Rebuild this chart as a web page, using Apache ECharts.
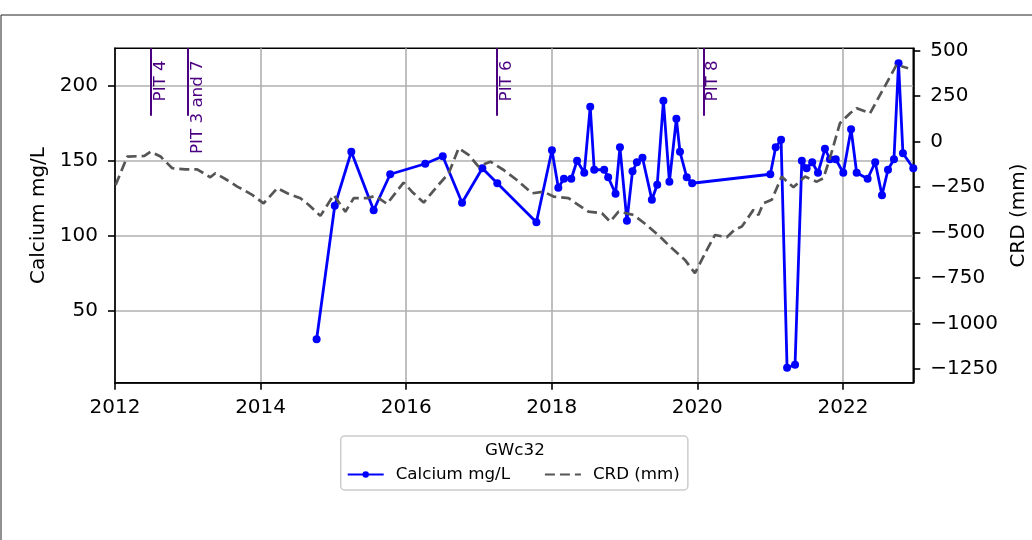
<!DOCTYPE html>
<html><head><meta charset="utf-8">
<script src="https://cdn.jsdelivr.net/npm/echarts@6/dist/echarts.min.js"></script>
<style>html,body{margin:0;padding:0;background:#fff}#c{width:1032px;height:540px}</style>
</head><body><div id="c"></div>
<script>
const STATION = 'GWc32';
const CA_NAME = 'Calcium mg/L';
const CRD_NAME = 'CRD (mm)';

const CA_DATES = ['2014-10-09','2015-01-08','2015-04-01','2015-07-22','2015-10-13','2016-04-06','2016-07-03','2016-10-08','2017-01-18','2017-04-03',
  '2017-10-16','2018-01-02','2018-02-03','2018-03-03','2018-04-09','2018-05-08','2018-06-13','2018-07-13','2018-08-02','2018-09-21',
  '2018-10-11','2018-11-17','2018-12-09','2019-01-13','2019-02-10','2019-03-04','2019-04-01','2019-05-18','2019-06-14','2019-07-15',
  '2019-08-14','2019-09-18','2019-10-06','2019-11-09','2019-12-06','2021-01-02','2021-01-29','2021-02-25','2021-03-27','2021-05-06',
  '2021-06-09','2021-07-03','2021-07-31','2021-08-29','2021-10-03','2021-10-28','2021-11-26','2022-01-03','2022-02-11','2022-03-11',
  '2022-05-05','2022-06-12','2022-07-16','2022-08-15','2022-09-14','2022-10-07','2022-10-29','2022-12-20'];
const CA_VALUES = [31,120,156,117,141,148,153,122,145,135,
  109,157,132,138,138,150,142,186,144,144,
  139,128,159,110,143,149,152,124,134,190,
  136,178,156,139,135,141,159,164,12,14,
  150,145,149,142,158,151,151,142,171,142,
  138,149,127,144,151,215,155,145];

const CRD_DATES = ['2012-01-04','2012-03-03','2012-05-26','2012-06-28','2012-08-17','2012-10-15','2012-12-20','2013-02-17','2013-04-24','2013-05-19',
  '2013-07-17','2013-09-06','2013-10-09','2013-11-20','2014-01-16','2014-03-26','2014-05-15','2014-07-20','2014-08-31','2014-10-28',
  '2015-01-03','2015-03-02','2015-04-13','2015-06-19','2015-07-31','2015-09-27','2015-12-19','2016-01-30','2016-03-29','2016-06-04',
  '2016-08-02','2016-09-21','2016-11-10','2016-12-30','2017-02-27','2017-05-05','2017-07-10','2017-09-24','2017-11-21','2018-01-10',
  '2018-03-26','2018-07-04','2018-09-10','2018-10-21','2018-12-02','2019-02-15','2019-04-22','2019-07-06','2019-08-17','2019-10-31',
  '2019-12-20','2020-02-18','2020-03-30','2020-05-28','2020-07-09','2020-08-12','2020-10-09','2020-11-03','2020-11-28','2021-01-09',
  '2021-02-28','2021-04-28','2021-06-25','2021-08-23','2021-09-25','2021-10-28','2021-12-17','2022-02-06','2022-03-11','2022-05-17',
  '2022-09-27','2022-11-24'];
const CRD_VALUES = [-238,-82,-79,-55,-82,-146,-152,-152,-196,-174,
  -211,-247,-266,-293,-339,-256,-284,-311,-348,-408,
  -293,-385,-311,-311,-298,-342,-225,-275,-335,-247,
  -174,-36,-73,-137,-110,-156,-211,-284,-275,-302,
  -311,-385,-394,-440,-385,-403,-458,-531,-577,-650,
  -723,-595,-513,-526,-482,-467,-375,-403,-339,-320,
  -192,-251,-192,-220,-201,-91,101,156,184,156,
  422,403];

const PIT_DATES = ['2012-07-01','2013-01-01','2017-04-01','2020-02-01'];
const PIT_LABELS = ['PIT 4','PIT 3 and 7','PIT 6','PIT 8'];
const PIT_FROM = 180;

const X_MIN = '2012-01-01';
const X_MAX = '2022-12-20';
const X_TICK_YEARS = [2012,2014,2016,2018,2020,2022];
const LEFT_MIN = 2, LEFT_MAX = 225;
const LEFT_TICKS = [50,100,150,200];
const RIGHT_MIN = -1325, RIGHT_MAX = 513;
const RIGHT_TICKS = [-1250,-1000,-750,-500,-250,0,250,500];

// date string -> decimal year
function t(s){
  const p = s.split('-').map(Number);
  const start = Date.UTC(p[0],0,1), end = Date.UTC(p[0]+1,0,1);
  return p[0] + (Date.UTC(p[0],p[1]-1,p[2]) - start) / (end - start);
}
const FONT = "'DejaVu Sans', sans-serif";
const PURPLE = '#4b0082';
const GRIDC = '#b0b0b0';
const fmtNum = v => v < 0 ? '\u2212' + Math.abs(v) : String(v);

const chart = echarts.init(document.getElementById('c'), null, {renderer:'canvas'});

const option = {
  animation: false,
  backgroundColor: '#fff',
  textStyle: {fontFamily: FONT},
  grid: {left:115, top:48.3, right:118.7, bottom:157.3, show:true, borderColor:'#000', borderWidth:1.6, containLabel:false, outerBoundsMode:'none'},
  xAxis: {
    type:'value', min:t(X_MIN), max:t(X_MAX),
    axisLine:{show:true, onZero:false, lineStyle:{color:'#000', width:1.6}},
    axisTick:{show:true, length:7, lineStyle:{color:'#000', width:1.6}, customValues:X_TICK_YEARS},
    axisLabel:{show:true, fontSize:20, color:'#000', fontFamily:FONT, margin:15, customValues:X_TICK_YEARS,
      showMinLabel:true, formatter: v => String(Math.round(v))},
    splitLine:{show:true, lineStyle:{color:GRIDC, width:1.6}}
  },
  yAxis: [{
    type:'value', position:'left', min:LEFT_MIN, max:LEFT_MAX,
    name: CA_NAME, nameLocation:'middle', nameGap:64, nameRotate:90,
    nameTextStyle:{fontSize:20, color:'#000', fontFamily:FONT},
    axisLine:{show:true, onZero:false, lineStyle:{color:'#000', width:1.6}},
    axisTick:{show:true, length:7, lineStyle:{color:'#000', width:1.6}, customValues:LEFT_TICKS},
    axisLabel:{show:true, fontSize:20, color:'#000', fontFamily:FONT, margin:17, customValues:LEFT_TICKS, formatter: fmtNum},
    splitLine:{show:true, lineStyle:{color:GRIDC, width:1.6}}
  },{
    type:'value', position:'right', min:RIGHT_MIN, max:RIGHT_MAX,
    name: CRD_NAME, nameLocation:'middle', nameGap:95, nameRotate:90,
    nameTextStyle:{fontSize:20, color:'#000', fontFamily:FONT},
    axisLine:{show:true, onZero:false, lineStyle:{color:'#000', width:1.6}},
    axisTick:{show:true, length:7, lineStyle:{color:'#000', width:1.6}, customValues:RIGHT_TICKS},
    axisLabel:{show:true, fontSize:20, color:'#000', fontFamily:FONT, margin:17, customValues:RIGHT_TICKS, formatter: fmtNum},
    splitLine:{show:false}
  }],
  legend: {
    data:[{name:CA_NAME}, {name:CRD_NAME, itemStyle:{opacity:0}}], left:340.7, top:436, orient:'horizontal',
    padding:[30, 8, 7, 6], itemWidth:36, itemHeight:8, itemGap:34,
    backgroundColor:'rgba(255,255,255,0.8)', borderColor:'#cccccc', borderWidth:1.5, borderRadius:4,
    textStyle:{fontSize:16.7, color:'#000', fontFamily:FONT, padding:[0,0,0,7]}
  },
  graphic: [
    {type:'rect', shape:{x:1, y:15, width:1200, height:700}, style:{fill:'none', stroke:'#222', lineWidth:1}, z:-1, silent:true},
    {type:'text', x:514.85, y:451, style:{text:STATION, font:"16.7px 'DejaVu Sans', sans-serif", fill:'#000', textAlign:'center', textVerticalAlign:'middle'}, z:100}
  ],
  series: [{
    name: CA_NAME, type:'line', yAxisIndex:0, z:2,
    data: CA_DATES.map((d,i) => [t(d), CA_VALUES[i]]),
    color:'#0000ff', symbol:'circle', symbolSize:8, showSymbol:true,
    lineStyle:{color:'#0000ff', width:2.8}, itemStyle:{color:'#0000ff'},
    markLine: {
      silent:true, symbol:['none','none'], animation:false,
      lineStyle:{color:PURPLE, width:2, type:'solid'},
      label:{show:true, position:'insideEndBottom', distance:[12,1], color:PURPLE, fontSize:16.7, fontFamily:FONT,
        formatter: p => p.name},
      data: PIT_DATES.map((d,i) => [{name:PIT_LABELS[i], coord:[t(d), PIT_FROM]}, {coord:[t(d), LEFT_MAX]}])
    }
  },{
    name: CRD_NAME, type:'line', yAxisIndex:1, z:3,
    data: CRD_DATES.map((d,i) => [t(d), CRD_VALUES[i]]),
    color:'#555555', symbol:'none', showSymbol:false,
    lineStyle:{color:'#555555', width:2.7, type:[10,5]}
  }]
};
chart.setOption(option);
</script></body></html>
